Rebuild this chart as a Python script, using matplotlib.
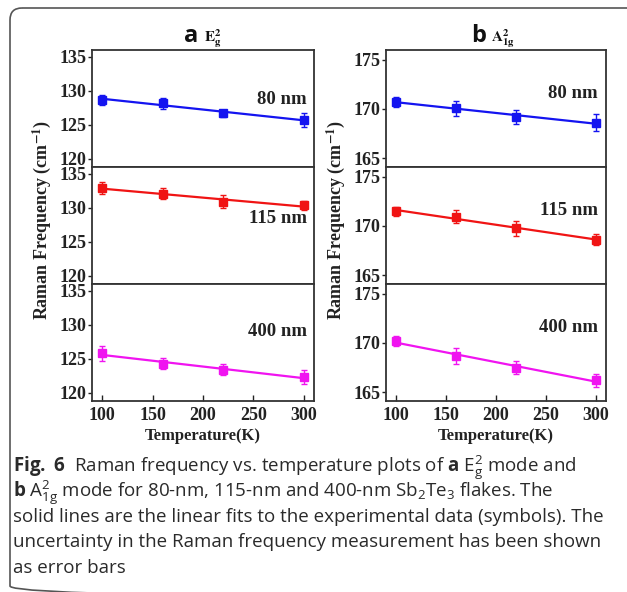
import matplotlib.pyplot as plt
import numpy as np
from matplotlib.patches import FancyBboxPatch

# data
temps = [100, 160, 220, 300]
sizes = ['80 nm', '115 nm', '400 nm']
colors = ['#1414f0', '#f01414', '#f014f0']

# panel a: E2g mode
e2g_80 = [128.7, 128.2, 126.7, 125.7]
e2g_80_err = [0.75, 0.8, 0.55, 1.0]
e2g_115 = [132.9, 132.1, 130.9, 130.35]
e2g_115_err = [0.9, 0.85, 1.0, 0.6]
e2g_400 = [125.8, 124.3, 123.4, 122.3]
e2g_400_err = [1.1, 0.8, 0.85, 1.0]

# panel b: A2_1g mode
a1g_80 = [170.75, 170.05, 169.2, 168.6]
a1g_80_err = [0.5, 0.73, 0.7, 0.85]
a1g_115 = [171.5, 170.95, 169.75, 168.6]
a1g_115_err = [0.48, 0.68, 0.73, 0.55]
a1g_400 = [170.2, 168.7, 167.5, 166.2]
a1g_400_err = [0.5, 0.8, 0.68, 0.65]

W, H = 627, 592
plt.rcParams['font.family'] = 'Liberation Serif'
plt.rcParams['mathtext.fontset'] = 'custom'
plt.rcParams['mathtext.rm'] = 'Open Sans:weight=normal'
plt.rcParams['mathtext.bf'] = 'Open Sans:weight=bold'
plt.rcParams['mathtext.it'] = 'Open Sans:style=italic'

fig = plt.figure(figsize=(W / 100, H / 100), dpi=100)

# rounded frame around the figure + caption
bg = fig.add_axes([0, 0, 1, 1])
bg.set_xlim(0, W)
bg.set_ylim(H, 0)
bg.axis('off')
bg.add_patch(FancyBboxPatch((10, 8), 640, 590, boxstyle='round,pad=0,rounding_size=12',
                            fc='none', ec='#555555', lw=1.2))


def box(x0, y0, x1, y1):
    return [x0 / W, 1 - y1 / H, (x1 - x0) / W, (y1 - y0) / H]


rows = [50, 167, 284, 401]
panels = [
    (92, 314, (118.8, 136), [120, 125, 130, 135],
     [(e2g_80, e2g_80_err), (e2g_115, e2g_115_err), (e2g_400, e2g_400_err)],
     [(0.968, 0.58), (0.968, 0.556), (0.968, 0.598)]),
    (386, 606, (164.1, 176), [165, 170, 175],
     [(a1g_80, a1g_80_err), (a1g_115, a1g_115_err), (a1g_400, a1g_400_err)],
     [(0.964, 0.624), (0.964, 0.624), (0.964, 0.632)]),
]

for x0, x1, ylim, yticks, series, lab_pos in panels:
    for i, (vals, err) in enumerate(series):
        ax = fig.add_axes(box(x0, rows[i], x1, rows[i + 1]))
        c = colors[i]
        k, b = np.polyfit(temps, vals, 1)
        xx = np.array([100, 300])
        ax.plot(xx, k * xx + b, color=c, lw=1.6)
        ax.errorbar(temps, vals, yerr=err, fmt='s', color=c, ms=5.5, capsize=2,
                    elinewidth=1, capthick=1)
        ax.set_xlim(90, 310)
        ax.set_ylim(*ylim)
        ax.set_yticks(yticks)
        ax.set_xticks([100, 150, 200, 250, 300])
        for s in ax.spines.values():
            s.set_linewidth(1.3)
            s.set_color('#333333')
        ax.tick_params(axis='y', direction='out', length=3, width=1, labelsize=13,
                       pad=1, colors='#222222')
        ax.tick_params(axis='x', direction='in', length=4, width=1, labelsize=13,
                       pad=4, colors='#222222')
        if i < 2:
            ax.tick_params(axis='x', length=0, labelbottom=False)
        for t in ax.get_xticklabels() + ax.get_yticklabels():
            t.set_fontweight('bold')
        ax.text(lab_pos[i][0], lab_pos[i][1], sizes[i], transform=ax.transAxes,
                ha='right', va='center', fontsize=13.5, fontweight='bold', color='#222222')
        if i == 2:
            ax.set_xlabel('Temperature(K)', fontsize=12, fontweight='bold', labelpad=3,
                          color='#222222')

# panel titles
fig.text(198 / W, 1 - 42 / H, 'a', family='Open Sans', fontweight='bold', fontsize=17,
         ha='right', va='baseline', color='#111111')
fig.text(204 / W, 1 - 42 / H, r'$\mathbf{E^{2}_{g}}$', math_fontfamily='stix',
         fontsize=11, ha='left', va='baseline', color='#111111')
fig.text(486 / W, 1 - 42 / H, 'b', family='Open Sans', fontweight='bold', fontsize=17,
         ha='right', va='baseline', color='#111111')
fig.text(491 / W, 1 - 42 / H, r'$\mathbf{A^{2}_{1g}}$', math_fontfamily='stix',
         fontsize=11, ha='left', va='baseline', color='#111111')

# y labels
for xc in (42, 336):
    fig.text(xc / W, 1 - 220 / H, r'Raman Frequency (cm$^{\mathbf{-1}}$)',
             math_fontfamily='stix', rotation=90, ha='center', va='center',
             fontsize=13, fontweight='bold', color='#222222')

# caption
cap = [
    r'$\mathbf{Fig.\ 6}$  Raman frequency vs. temperature plots of $\mathbf{a}$ E$^{2}_{\mathrm{g}}$ mode and',
    r'$\mathbf{b}$ A$^{2}_{\mathrm{1g}}$ mode for 80-nm, 115-nm and 400-nm Sb$_{2}$Te$_{3}$ flakes. The',
    'solid lines are the linear fits to the experimental data (symbols). The',
    'uncertainty in the Raman frequency measurement has been shown',
    'as error bars',
]
base = [472, 497, 522, 547, 573]
for line, y in zip(cap, base):
    fig.text(13 / W, 1 - y / H, line, family='Open Sans', fontsize=13.5, ha='left',
             va='baseline', color='#2a2a2a')

fig.savefig('out.png', dpi=100)
